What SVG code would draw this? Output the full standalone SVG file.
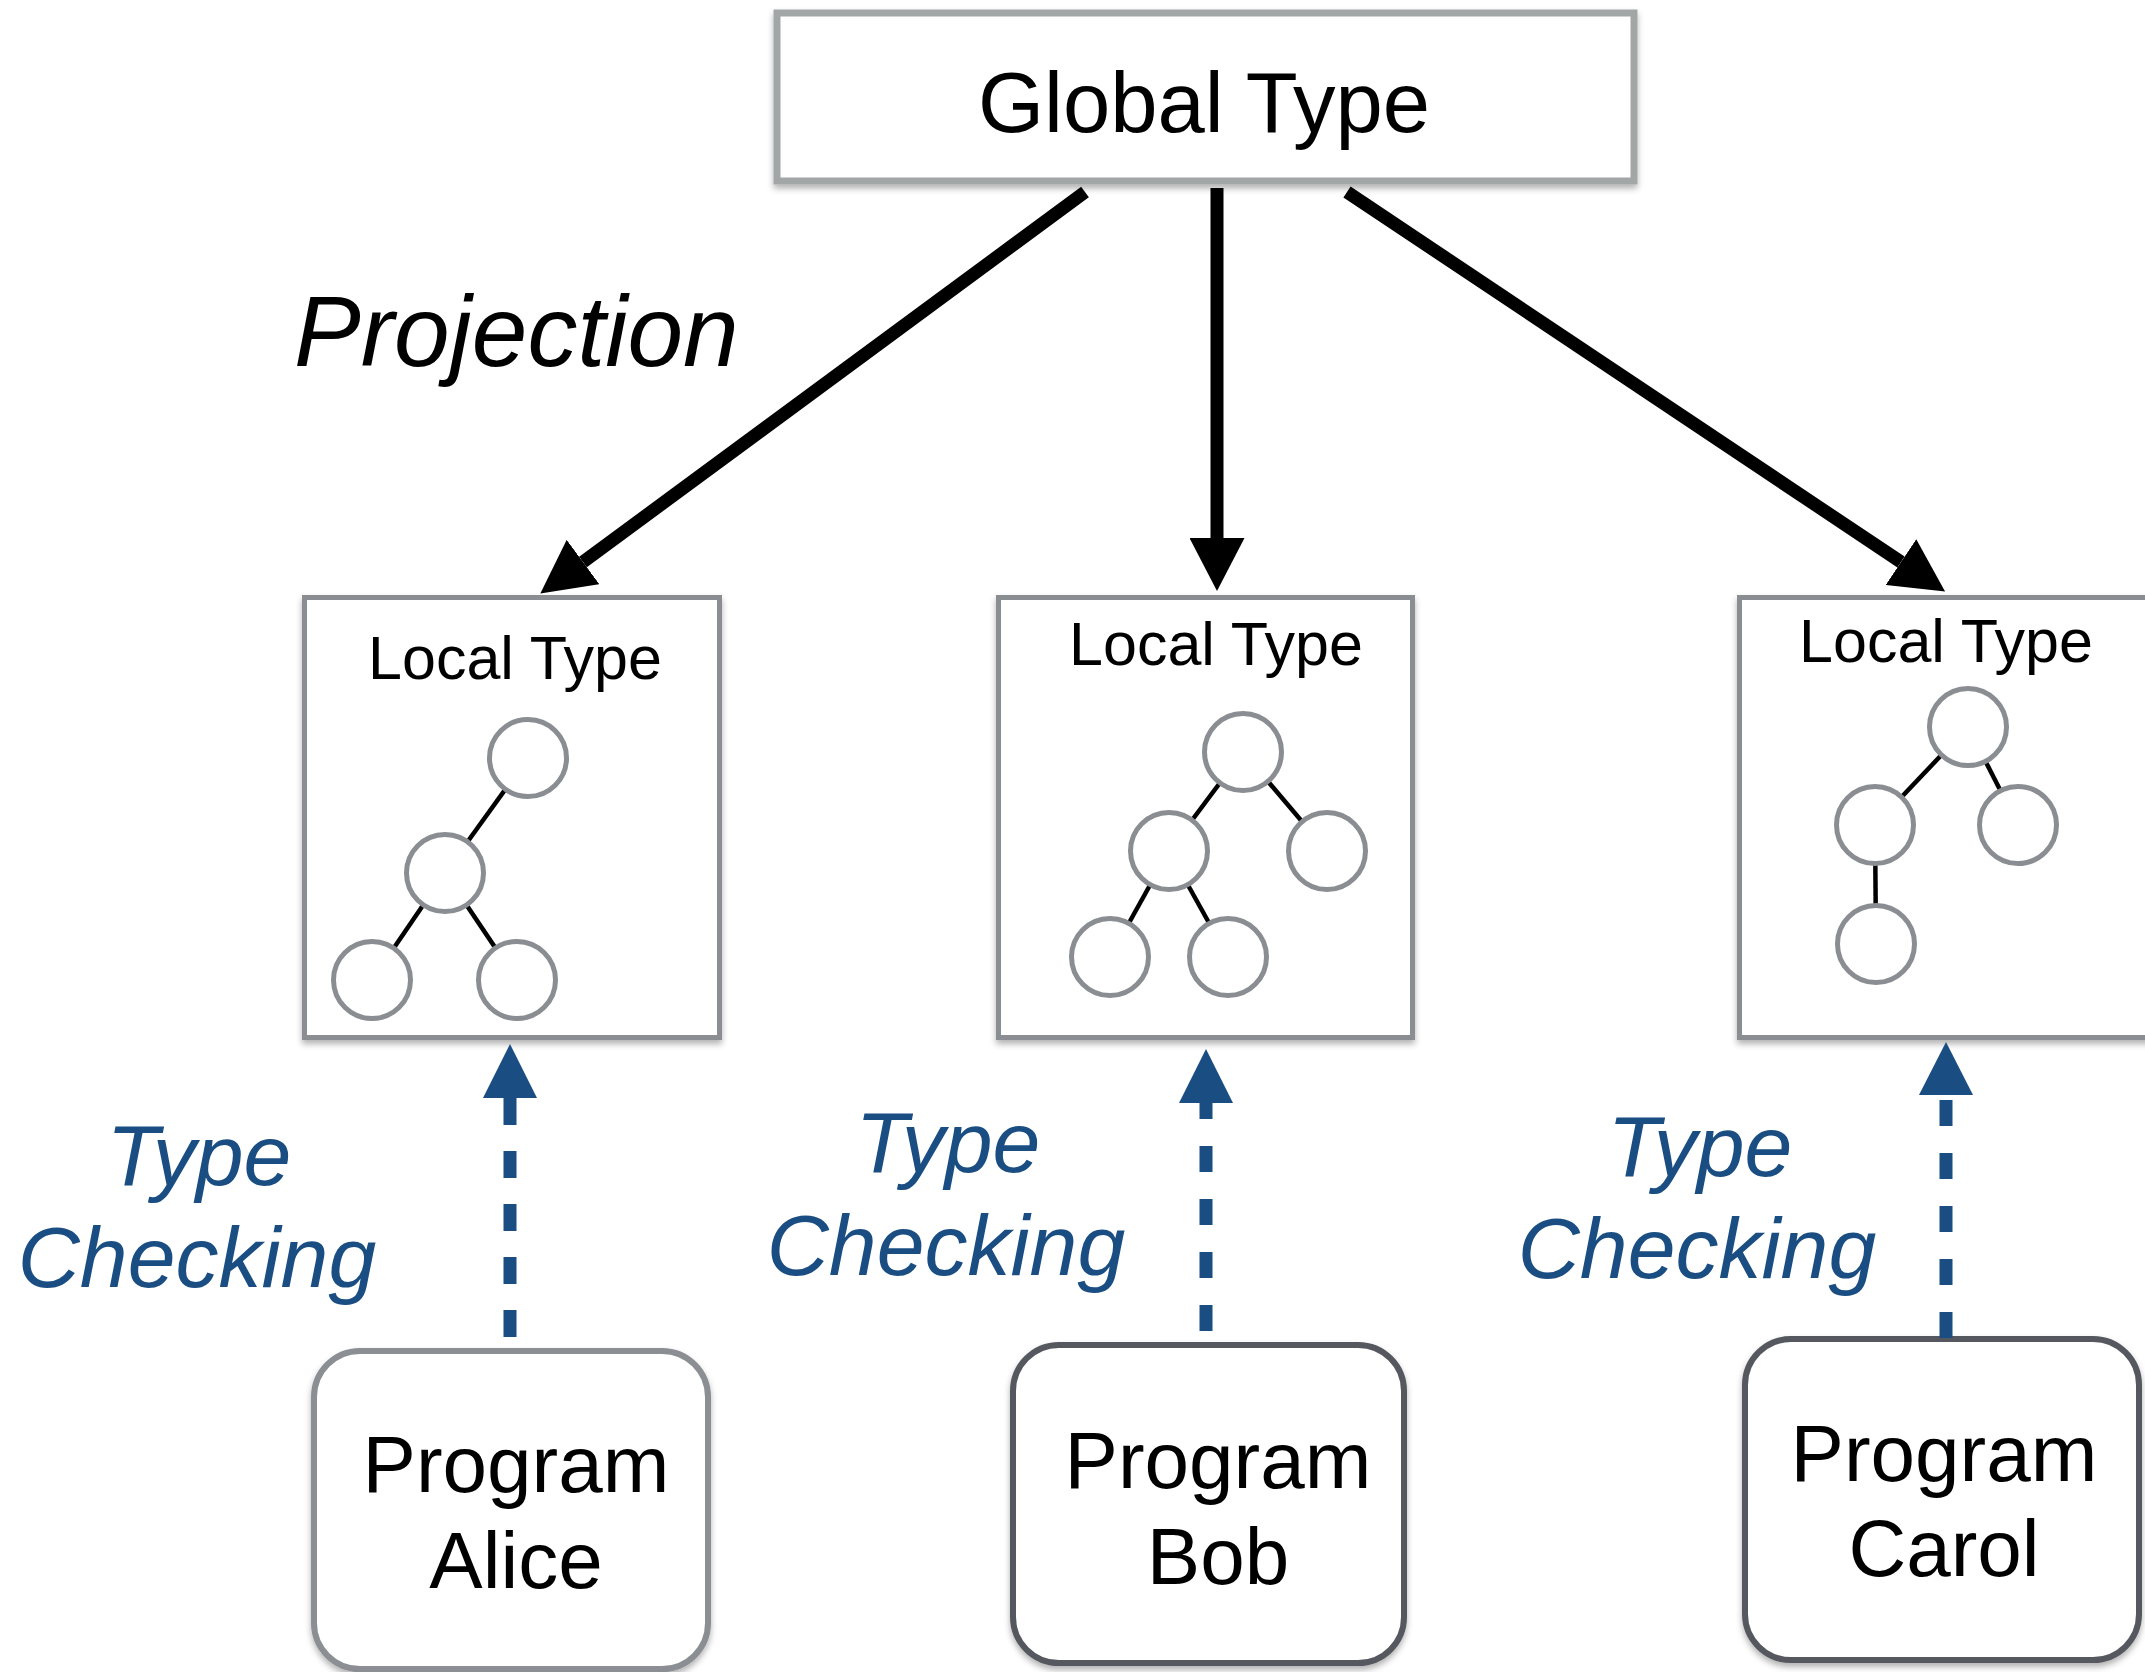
<svg xmlns="http://www.w3.org/2000/svg" width="2145" height="1672" viewBox="0 0 2145 1672">
<style>
  .lbl{font-family:"Liberation Sans",Arial,sans-serif;fill:#000;text-anchor:middle}
  .proj-lbl{font-family:"Liberation Sans",Arial,sans-serif;fill:#000;font-style:italic;font-size:100px;text-anchor:start}
  .tc{font-family:"Liberation Sans",Arial,sans-serif;font-style:italic;fill:#1a4e83;text-anchor:middle;font-size:86px}
  .lbox{fill:#fff;stroke:#8a8d91;stroke-width:5}
  .pbox{fill:#fff;stroke-width:6}
  .node{fill:#fff;stroke:#8a8d91;stroke-width:5}
  .edge{stroke:#000;stroke-width:4.5}
  .proj{stroke:#000;stroke-width:13;fill:none}
  .chk{stroke:#1a4e83;stroke-width:13;fill:none}
</style>
<defs>
  <filter id="sh" x="-5%" y="-5%" width="110%" height="115%">
    <feDropShadow dx="0" dy="4" stdDeviation="3" flood-color="#000" flood-opacity="0.3"/>
  </filter>
  <marker id="ahB" viewBox="0 0 53 55" refX="0" refY="27.5" markerWidth="53" markerHeight="55" markerUnits="userSpaceOnUse" orient="auto">
    <path d="M0,0 L53,27.5 L0,55 z" fill="#000"/>
  </marker>
  <marker id="ahC" viewBox="0 0 54 54" refX="0" refY="27" markerWidth="54" markerHeight="54" markerUnits="userSpaceOnUse" orient="auto">
    <path d="M0,0 L54,27 L0,54 z" fill="#1a4e83"/>
  </marker>
</defs>

<g id="global-type">
  <rect x="777" y="13" width="857" height="168" fill="#fff" stroke="#a3a6a6" stroke-width="7" filter="url(#sh)"/>
  <text class="lbl" x="1204" y="132" font-size="85">Global Type</text>
</g>

<g id="local-alice">
  <rect class="lbox" x="304.5" y="597.5" width="415" height="440" filter="url(#sh)"/>
  <text class="lbl" x="515" y="679" font-size="61">Local Type</text>
  <line class="edge" x1="528" y1="758" x2="445" y2="873"/>
  <line class="edge" x1="445" y1="873" x2="372" y2="980"/>
  <line class="edge" x1="445" y1="873" x2="517" y2="980"/>
  <circle class="node" cx="528" cy="758" r="38.5"/>
  <circle class="node" cx="445" cy="873" r="38.5"/>
  <circle class="node" cx="372" cy="980" r="38.5"/>
  <circle class="node" cx="517" cy="980" r="38.5"/>
</g>

<g id="local-bob">
  <rect class="lbox" x="998.5" y="597.5" width="414" height="440" filter="url(#sh)"/>
  <text class="lbl" x="1216" y="665" font-size="61">Local Type</text>
  <line class="edge" x1="1243" y1="752" x2="1169" y2="851"/>
  <line class="edge" x1="1243" y1="752" x2="1327" y2="851"/>
  <line class="edge" x1="1169" y1="851" x2="1110" y2="957"/>
  <line class="edge" x1="1169" y1="851" x2="1228" y2="957"/>
  <circle class="node" cx="1243" cy="752" r="38.5"/>
  <circle class="node" cx="1169" cy="851" r="38.5"/>
  <circle class="node" cx="1327" cy="851" r="38.5"/>
  <circle class="node" cx="1110" cy="957" r="38.5"/>
  <circle class="node" cx="1228" cy="957" r="38.5"/>
</g>

<g id="local-carol">
  <rect class="lbox" x="1739.5" y="597.5" width="415" height="440" filter="url(#sh)"/>
  <text class="lbl" x="1946" y="662" font-size="61">Local Type</text>
  <line class="edge" x1="1968" y1="727" x2="1875" y2="825"/>
  <line class="edge" x1="1968" y1="727" x2="2018" y2="825"/>
  <line class="edge" x1="1875" y1="825" x2="1876" y2="944"/>
  <circle class="node" cx="1968" cy="727" r="38.5"/>
  <circle class="node" cx="1875" cy="825" r="38.5"/>
  <circle class="node" cx="2018" cy="825" r="38.5"/>
  <circle class="node" cx="1876" cy="944" r="38.5"/>
</g>

<g id="program-alice">
  <rect class="pbox" x="314" y="1351" width="394" height="318" rx="46" stroke="#8b8e92" filter="url(#sh)"/>
  <text class="lbl" x="516" y="1492" font-size="80">Program</text>
  <text class="lbl" x="516" y="1588" font-size="80">Alice</text>
</g>

<g id="program-bob">
  <rect class="pbox" x="1013" y="1345" width="391" height="318" rx="46" stroke="#55595e" filter="url(#sh)"/>
  <text class="lbl" x="1218" y="1488" font-size="80">Program</text>
  <text class="lbl" x="1218" y="1584" font-size="80">Bob</text>
</g>

<g id="program-carol">
  <rect class="pbox" x="1745" y="1339" width="394" height="321" rx="46" stroke="#55595e" filter="url(#sh)"/>
  <text class="lbl" x="1944" y="1481" font-size="80">Program</text>
  <text class="lbl" x="1944" y="1576" font-size="80">Carol</text>
</g>

<g id="connectors">
  <line class="proj" x1="1085" y1="192" x2="583" y2="562" marker-end="url(#ahB)"/>
  <line class="proj" x1="1217" y1="188" x2="1217" y2="538" marker-end="url(#ahB)"/>
  <line class="proj" x1="1347" y1="192" x2="1901" y2="562" marker-end="url(#ahB)"/>

  <path class="chk" d="M510,1337 L510,1098" stroke-dasharray="27 26" marker-end="url(#ahC)"/>
  <path class="chk" d="M1206,1331 L1206,1103" stroke-dasharray="26 27" marker-end="url(#ahC)"/>
  <path class="chk" d="M1946,1338 L1946,1100" stroke-dasharray="26 27"/>
  <path d="M1919,1095 L1946,1042 L1973,1095 z" fill="#1a4e83"/>
</g>

<g id="labels">
  <text class="proj-lbl" x="294" y="366">Projection</text>
  <text class="tc" x="199" y="1185">Type</text>
  <text class="tc" x="197" y="1287">Checking</text>
  <text class="tc" x="948" y="1172">Type</text>
  <text class="tc" x="946" y="1275">Checking</text>
  <text class="tc" x="1700" y="1176">Type</text>
  <text class="tc" x="1697" y="1278">Checking</text>
</g>
</svg>
